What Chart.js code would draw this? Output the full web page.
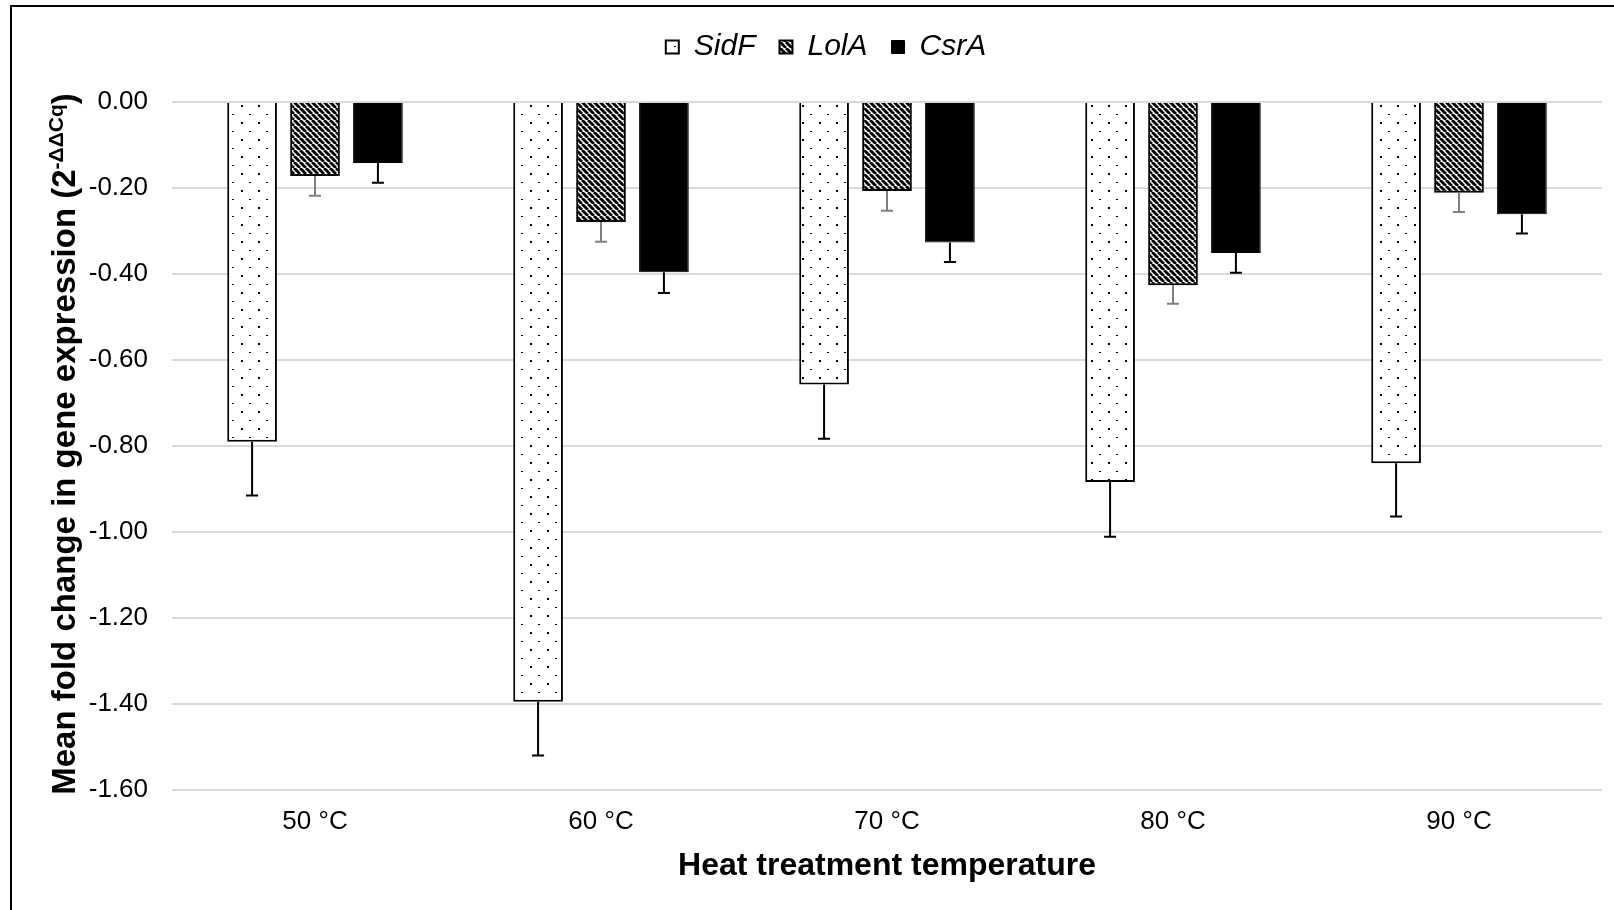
<!DOCTYPE html>
<html>
<head>
<meta charset="utf-8">
<script src="https://cdn.jsdelivr.net/npm/chart.js@4.4.1/dist/chart.umd.min.js"></script>
<style>
  html, body { margin: 0; padding: 0; background: #fff; }
  canvas { display: block; }
</style>
</head>
<body>
<canvas id="chart" width="1614" height="910"></canvas>
<script>
// values
const temperatures = ["50 °C", "60 °C", "70 °C", "80 °C", "90 °C"];
const sidF = [-0.79, -1.395, -0.657, -0.884, -0.840];
const sidFErr = [0.125, 0.125, 0.126, 0.127, 0.124];
const lolA = [-0.172, -0.279, -0.207, -0.426, -0.211];
const lolAErr = [0.046, 0.046, 0.046, 0.043, 0.045];
const csrA = [-0.142, -0.396, -0.327, -0.351, -0.261];
const csrAErr = [0.046, 0.048, 0.045, 0.046, 0.045];
const yTicks = [0, -0.2, -0.4, -0.6, -0.8, -1.0, -1.2, -1.4, -1.6];

const FONT = "'Liberation Sans', Arial, sans-serif";

// dotted fill (SidF)
function dotPattern() {
    const c = document.createElement("canvas");
    c.width = 17; c.height = 17;
    const g = c.getContext("2d");
    g.fillStyle = "#fff";
    g.fillRect(0, 0, 17, 17);
    g.fillStyle = "#000";
    g.fillRect(3, 3, 2, 2);
    g.fillRect(11, 12, 2, 1);
    return g.createPattern(c, "repeat");
}

// wide downward diagonal (LolA)
function stripePattern() {
    const s = 6;
    const c = document.createElement("canvas");
    c.width = s; c.height = s;
    const g = c.getContext("2d");
    g.fillStyle = "#fff";
    g.fillRect(0, 0, s, s);
    g.strokeStyle = "#000";
    g.lineWidth = 2.9;
    for (const off of [-s, 0, s]) {
        g.beginPath();
        g.moveTo(off, 0);
        g.lineTo(off + s, s);
        g.stroke();
    }
    return g.createPattern(c, "repeat");
}

const errorSets = [sidFErr, lolAErr, csrAErr];
const errorColors = ["#000", "#7f7f7f", "#000"];

const errorBars = {
    id: "errorBars",
    afterDatasetsDraw(chart) {
        const ctx = chart.ctx;
        const y = chart.scales.y;
        chart.data.datasets.forEach((ds, i) => {
            const meta = chart.getDatasetMeta(i);
            ctx.save();
            ctx.strokeStyle = errorColors[i];
            ctx.lineWidth = 2;
            meta.data.forEach((bar, j) => {
                const y0 = bar.y;
                const y1 = y.getPixelForValue(ds.data[j] - errorSets[i][j]);
                ctx.beginPath();
                ctx.moveTo(bar.x, y0);
                ctx.lineTo(bar.x, y1);
                ctx.moveTo(bar.x - 6, y1);
                ctx.lineTo(bar.x + 6, y1);
                ctx.stroke();
            });
            ctx.restore();
        });
    }
};

const frameAndTitles = {
    id: "frameAndTitles",
    afterDraw(chart) {
        const ctx = chart.ctx;
        const a = chart.chartArea;
        ctx.save();
        // outer frame (clipped at right and bottom in the original)
        ctx.fillStyle = "#000";
        ctx.fillRect(10, 5, 2, 905);
        ctx.fillRect(10, 5, 1604, 2);

        // x title
        ctx.font = "bold 32px " + FONT;
        ctx.textAlign = "center";
        ctx.textBaseline = "middle";
        ctx.fillText("Heat treatment temperature", (a.left + a.right) / 2, 866);

        // y title with superscript
        const main = "Mean fold change in gene expression (2";
        const sup = "-ΔΔCq";
        const close = ")";
        const bigFont = "bold 33px " + FONT;
        const smallFont = "bold 21px " + FONT;
        ctx.font = bigFont;
        const w1 = ctx.measureText(main).width;
        const w3 = ctx.measureText(close).width;
        ctx.font = smallFont;
        const w2 = ctx.measureText(sup).width;
        const total = w1 + w2 + w3;
        ctx.translate(64, (a.top + a.bottom) / 2 - 2);
        ctx.rotate(-Math.PI / 2);
        ctx.textAlign = "left";
        ctx.textBaseline = "alphabetic";
        let x = -total / 2;
        const base = 11;
        ctx.font = bigFont;
        ctx.fillText(main, x, base);
        x += w1;
        ctx.font = smallFont;
        ctx.fillText(sup, x, base - 12);
        x += w2;
        ctx.font = bigFont;
        ctx.fillText(close, x, base);
        ctx.restore();
    }
};

new Chart(document.getElementById("chart"), {
    type: "bar",
    data: {
        labels: temperatures,
        datasets: [
            { label: "SidF", data: sidF, backgroundColor: dotPattern(), borderColor: "#000", borderWidth: 2 },
            { label: "LolA", data: lolA, backgroundColor: stripePattern(), borderColor: "#000", borderWidth: 2 },
            { label: "CsrA", data: csrA, backgroundColor: "#000", borderColor: "#000", borderWidth: 1 }
        ]
    },
    options: {
        responsive: false,
        animation: false,
        devicePixelRatio: 1,
        layout: { padding: { top: 8, left: 50, right: 12, bottom: 0 } },
        datasets: { bar: { categoryPercentage: 0.66, barPercentage: 0.79 } },
        plugins: {
            legend: {
                position: "top",
                labels: {
                    boxWidth: 13,
                    boxHeight: 13,
                    padding: 24,
                    color: "#000",
                    font: { family: FONT, size: 30, style: "italic" }
                }
            },
            tooltip: { enabled: false }
        },
        scales: {
            spacer: {
                type: "category",
                position: "top",
                grid: { display: false, drawTicks: false },
                border: { display: false },
                ticks: { display: false },
                afterFit(s) { s.height = 30; }
            },
            x: {
                grid: { display: false, drawTicks: false },
                border: { display: false },
                ticks: { color: "#000", padding: 16, font: { family: FONT, size: 26 } },
                afterFit(s) { s.height = 120; }
            },
            y: {
                min: -1.6,
                max: 0,
                afterBuildTicks(s) { s.ticks = yTicks.map(v => ({ value: v })); },
                grid: { color: "#d9d9d9", lineWidth: 2, drawTicks: false },
                border: { display: false },
                ticks: {
                    color: "#000",
                    padding: 24,
                    font: { family: FONT, size: 26 },
                    callback: v => (Math.abs(v) < 1e-9 ? 0 : v).toFixed(2)
                },
                afterFit(s) { s.width = 122; }
            }
        }
    },
    plugins: [errorBars, frameAndTitles]
});
</script>
</body>
</html>
